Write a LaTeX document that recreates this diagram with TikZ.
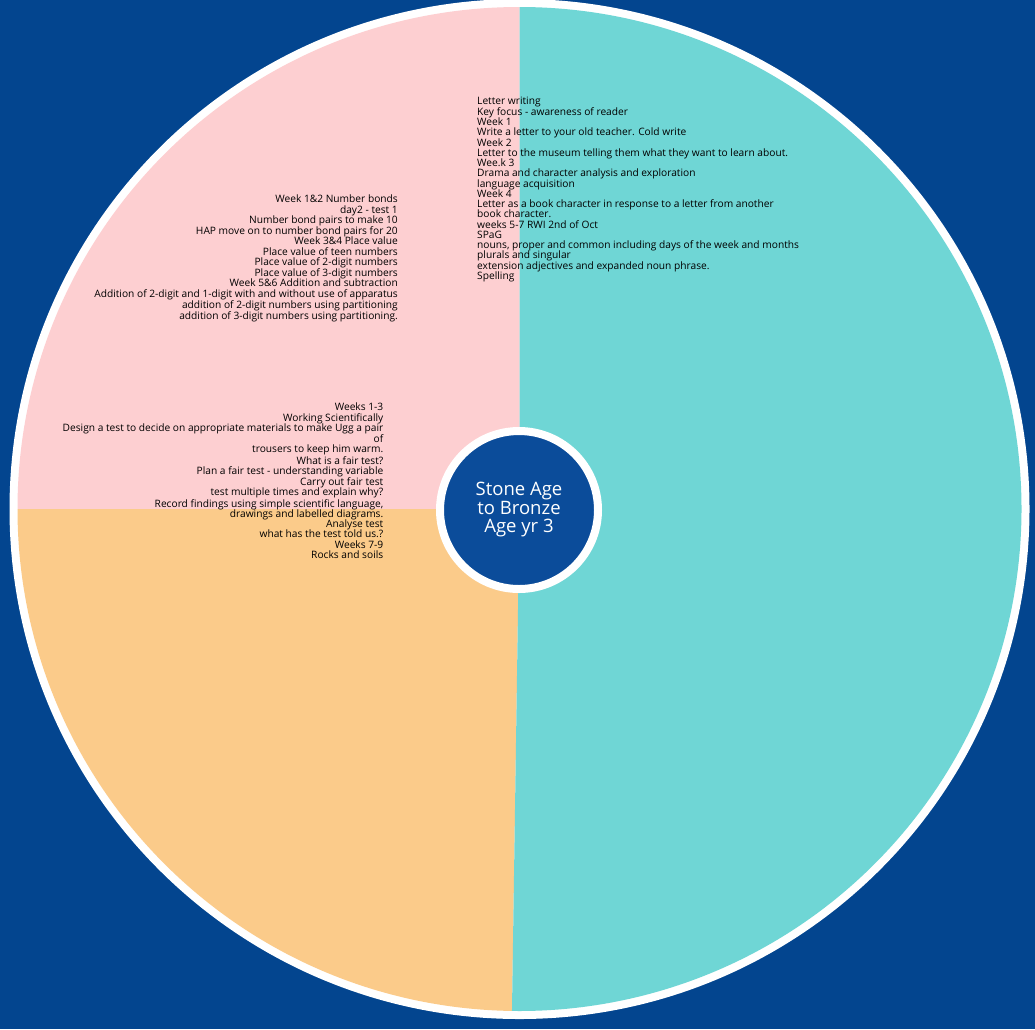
\documentclass[tikz,border=0pt]{standalone}
\usepackage{fontspec}
\setmainfont{Open Sans}
\usepackage{tikz}
\definecolor{bgblue}{HTML}{03458F}
\definecolor{midblue}{HTML}{0B4C9A}
\definecolor{pinkfill}{HTML}{FDCFD1}
\definecolor{orangefill}{HTML}{FBCB8A}
\definecolor{cyanfill}{HTML}{6FD6D5}
\tikzset{
  plan/.style={inner sep=0pt, text=black, font=\fontsize{10.2}{10.24}\selectfont},
  hub/.style={circle, draw=white, line width=8pt, fill=midblue, minimum size=158pt,
    text=white, align=center, font=\fontsize{18.5}{18.5}\selectfont}
}
\begin{document}
\begin{tikzpicture}[x=1pt,y=-1pt]
\fill[bgblue] (0,0) rectangle (1035,1029);
\useasboundingbox (0,0) rectangle (1035,1029);
\coordinate (c) at (519.5,509);

\fill[white] (c) circle[radius=510];
\fill[pinkfill] (c) -- ++(180:502) arc[start angle=180, end angle=270, radius=502] -- cycle;
\fill[orangefill] (c) -- ++(90.86:502) arc[start angle=90.86, end angle=180, radius=502] -- cycle;
\fill[cyanfill] (c) -- ++(-90:502) arc[start angle=-90, end angle=90.86, radius=502] -- cycle;

\node[hub] (topic) at (519,510) {Stone Age\\to Bronze\\Age yr 3};

\node[plan, anchor=north west, align=left] (english) at (477,96.5) {Letter writing\\
Key focus - awareness of reader\\
Week 1\\
Write a letter to your old teacher. Cold write\\
Week 2\\
Letter to the museum telling them what they want to learn about.\\
Wee.k 3\\
Drama and character analysis and exploration\\
language acquisition\\
Week 4\\
Letter as a book character in response to a letter from another\\
book character.\\
weeks 5-7 RWI 2nd of Oct\\
SPaG\\
nouns, proper and common including days of the week and months\\
plurals and singular\\
extension adjectives and expanded noun phrase.\\
Spelling};

\node[plan, anchor=north east, align=right] (maths) at (398,195) {Week 1\&2 Number bonds\\
day2 - test 1\\
Number bond pairs to make 10\\
HAP move on to number bond pairs for 20\\
Week 3\&4 Place value\\
Place value of teen numbers\\
Place value of 2-digit numbers\\
Place value of 3-digit numbers\\
Week 5\&6 Addition and subtraction\\
Addition of 2-digit and 1-digit with and without use of apparatus\\
addition of 2-digit numbers using partitioning\\
addition of 3-digit numbers using partitioning.};

\node[plan, anchor=north east, align=right] (science) at (383.5,403) {Weeks 1-3\\
Working Scientifically\\
Design a test to decide on appropriate materials to make Ugg a pair\\
of\\
trousers to keep him warm.\\
What is a fair test?\\
Plan a fair test - understanding variable\\
Carry out fair test\\
test multiple times and explain why?\\
Record findings using simple scientific language,\\
drawings and labelled diagrams.\\
Analyse test\\
what has the test told us.?\\
Weeks 7-9\\
Rocks and soils};
\end{tikzpicture}
\end{document}
